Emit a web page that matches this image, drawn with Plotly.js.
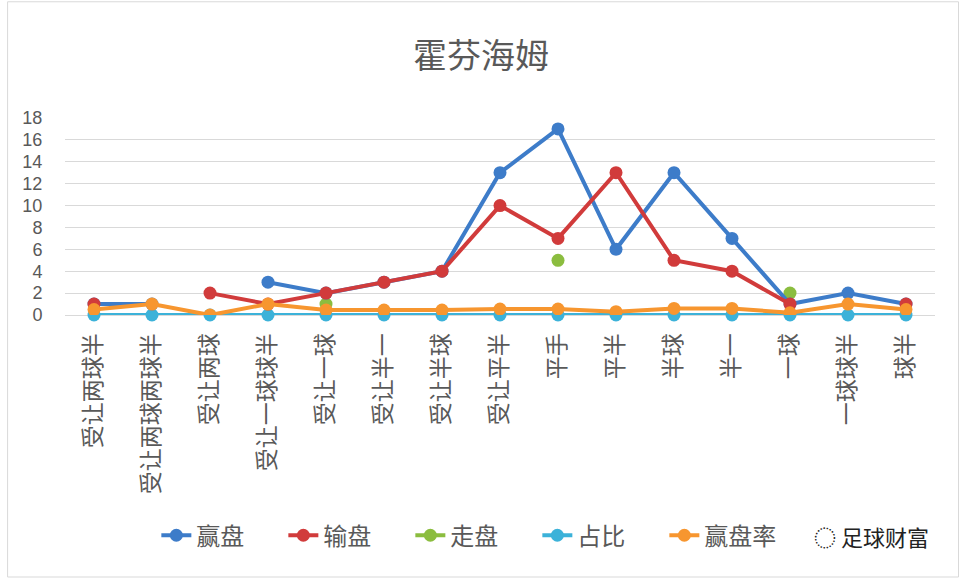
<!DOCTYPE html>
<html>
<head>
<meta charset="utf-8">
<script src="https://cdn.plot.ly/plotly-3.0.1.min.js"></script>
<style>
html, body { margin: 0; padding: 0; background: #fff; }
#chart { width: 962px; height: 578px; }
</style>
</head>
<body>
<div id="chart"></div>
<script>
var categories = ['受让两球半', '受让两球两球半', '受让两球', '受让一球球半', '受让一球', '受让半一',
	'受让半球', '受让平半', '平手', '平半', '半球', '半一', '一球', '一球球半', '球半'];

// values (null = no point)
var winValues  = [1, 1, null, 3, 2, 3, 4, 13, 17, 6, 13, 7, 1, 2, 1];
var loseValues = [1, null, 2, 1, 2, 3, 4, 10, 7, 13, 5, 4, 1, null, 1];
var drawValues = [null, null, null, null, 1, null, null, null, 5, null, null, null, 2, null, null];
var shareValues = [0, 0, 0, 0, 0, 0, 0, 0, 0, 0, 0, 0, 0, 0, 0];
var rateValues = [0.5, 1, 0, 1, 0.45, 0.45, 0.45, 0.55, 0.55, 0.3, 0.6, 0.6, 0.2, 1, 0.5];

var seriesNames = ['赢盘', '输盘', '走盘', '占比', '赢盘率'];
var seriesColors = ['#3d7cc9', '#d13b3b', '#8bbd3f', '#3cb2d9', '#f7962f'];
var seriesValues = [winValues, loseValues, drawValues, shareValues, rateValues];
// drawing order: share lowest, rate on top
var seriesZ = [2, 3, 1, 0, 4];

var data = [];
for (var i = 0; i < seriesNames.length; i++) {
	data.push({
		x : categories,
		y : seriesValues[i],
		type : 'scatter',
		mode : 'lines+markers',
		name : seriesNames[i],
		zorder : seriesZ[i],
		cliponaxis : false,
		connectgaps : false,
		line : { color : seriesColors[i], width : 4 },
		marker : { color : seriesColors[i], size : 13 }
	});
}

var layout = {
	width : 962,
	height : 578,
	paper_bgcolor : '#fff',
	plot_bgcolor : '#fff',
	margin : { l : 65, r : 27, t : 118, b : 263 },
	font : { family : 'Noto Sans CJK SC, sans-serif', color : '#595959' },
	title : {
		text : '霍芬海姆',
		font : { size : 34, color : '#595959' },
		x : 0.5, xanchor : 'center',
		y : 0.903, yanchor : 'middle'
	},
	showlegend : true,
	legend : {
		orientation : 'h',
		traceorder : 'normal',
		x : 0.105, xanchor : 'left',
		y : -1.12, yanchor : 'middle',
		font : { size : 24, color : '#595959' },
		entrywidth : 82,
		entrywidthmode : 'pixels'
	},
	xaxis : {
		type : 'category',
		range : [-0.5, 14.5],
		showgrid : false,
		zeroline : false,
		showline : false,
		tickangle : -90,
		ticks : 'outside',
		ticklen : 8,
		tickcolor : 'rgba(0,0,0,0)',
		tickfont : { size : 23, color : '#595959' }
	},
	yaxis : {
		range : [0, 18],
		dtick : 2,
		showgrid : true,
		gridcolor : '#d9d9d9',
		gridwidth : 1,
		zeroline : true,
		zerolinecolor : '#d9d9d9',
		zerolinewidth : 1,
		ticks : 'outside',
		ticklen : 18,
		tickcolor : 'rgba(0,0,0,0)',
		tickfont : { size : 18, family : 'Liberation Sans, sans-serif', color : '#595959' }
	},
	shapes : [ {
		type : 'rect', xref : 'paper', yref : 'paper',
		x0 : -0.066, x1 : 1.027, y0 : -1.33, y1 : 1.59,
		line : { color : '#d9d9d9', width : 1 }
	} ],
	annotations : [ {
		text : '◌ 足球财富',
		xref : 'paper', yref : 'paper',
		x : 0.995, xanchor : 'right',
		y : -1.12, yanchor : 'middle',
		showarrow : false,
		bgcolor : '#fff',
		font : { size : 22, color : '#222' }
	} ]
};

Plotly.newPlot('chart', data, layout, { displayModeBar : false, staticPlot : true });
</script>
</body>
</html>
